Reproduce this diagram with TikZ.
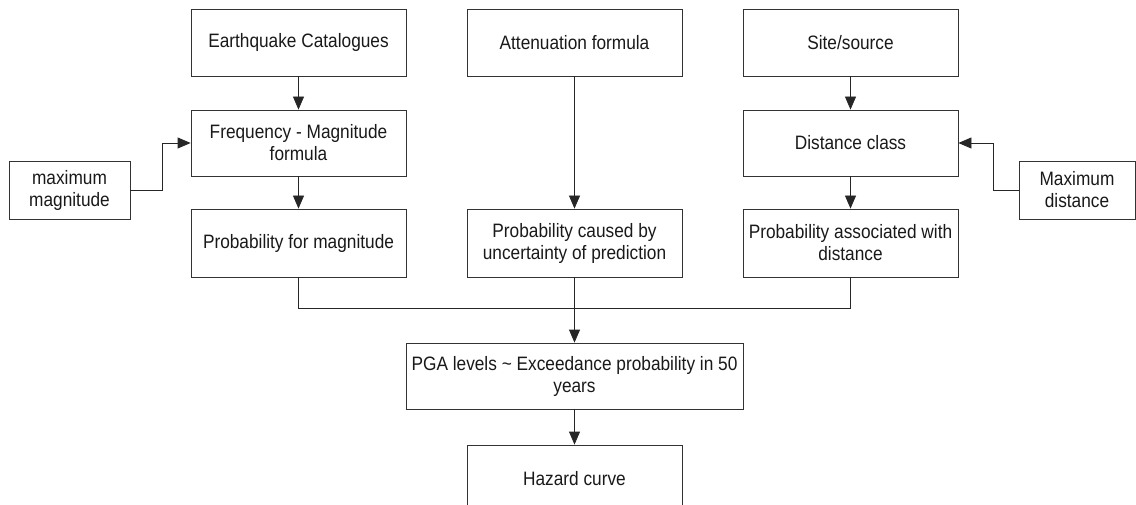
\documentclass[tikz,border=0pt]{standalone}
\usepackage{fontspec}
\setmainfont{Liberation Sans}[FakeStretch=0.89]
\usetikzlibrary{arrows.meta}
\begin{document}
\begin{tikzpicture}[x=1pt,y=-1pt,
  box/.style={draw=black!80,line width=0.8pt,rectangle,inner sep=0pt,align=center,
    text=black!90,font=\fontsize{19.4}{22}\selectfont},
  mainbox/.style={box,minimum width=215pt,minimum height=67pt},
  arr/.style={draw=black!85,line width=0.8pt,-{Triangle[length=13pt,width=11pt]}},
  ln/.style={draw=black!85,line width=0.8pt}]
\useasboundingbox (0,0) rectangle (1136,505);
\begin{scope}
\clip (0,0) rectangle (1136,505);
% top row: inputs
\node[mainbox] (ec) at (298.5,42.5) {Earthquake Catalogues};
\node[mainbox] (af) at (574.5,42.5) {Attenuation formula};
\node[mainbox] (ss) at (850.5,42.5) {Site/source};
% second row
\node[mainbox,minimum height=66pt] (fm) at (298.5,143) {Frequency - Magnitude\\formula};
\node[mainbox,minimum height=66pt] (dc) at (850.5,143) {Distance class};
% side inputs
\node[box,minimum width=121pt,minimum height=58pt] (mm) at (69.5,190) {maximum\\magnitude};
\node[box,minimum width=116pt,minimum height=58pt] (md) at (1077,190) {Maximum\\distance};
% probability row
\node[mainbox,minimum height=68pt] (pm) at (298.5,243) {Probability for magnitude};
\node[mainbox,minimum height=68pt] (pu) at (574.5,243) {Probability caused by\\uncertainty of prediction};
\node[mainbox,minimum height=68pt] (pd) at (850.5,243) {Probability associated with\\distance};
% combination and result
\node[box,minimum width=337pt,minimum height=66pt] (pga) at (574.5,376) {PGA levels \textasciitilde{} Exceedance probability in 50\\years};
\node[mainbox] (hz) at (574.5,478.5) {Hazard curve};
\coordinate (j) at (574.5,308);

% connectors
\draw[arr] (ec.south) -- (fm.north);
\draw[arr] (fm.south) -- (pm.north);
\draw[arr] (ss.south) -- (dc.north);
\draw[arr] (dc.south) -- (pd.north);
\draw[arr] (af.south) -- (pu.north);
\draw[arr] (mm.east) -- ++(32,0) |- (fm.west);
\draw[arr] (md.west) -- ++(-25,0) |- (dc.east);
\draw[ln] (pm.south) |- (j);
\draw[ln] (pd.south) |- (j);
\draw[arr] (pu.south) -- (pga.north);
\draw[arr] (pga.south) -- (hz.north);
\end{scope}
\end{tikzpicture}
\end{document}
